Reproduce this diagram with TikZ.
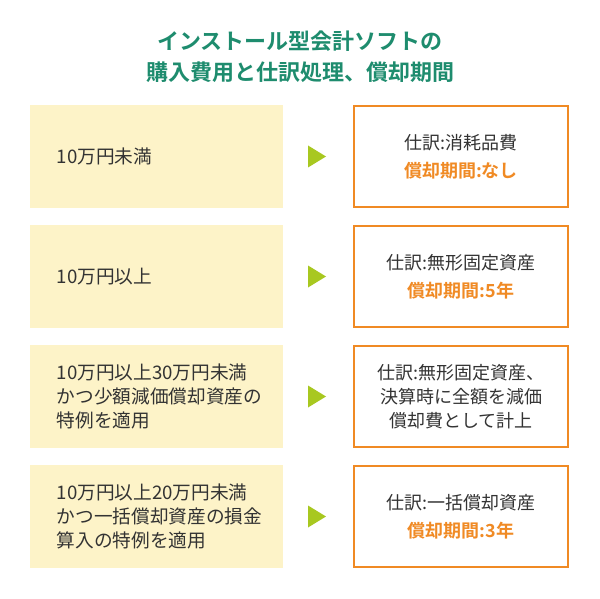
\documentclass[tikz,border=0pt]{standalone}
\usepackage{fontspec}
\setmainfont{Noto Sans CJK JP}[BoldFont={* Bold}]
\usetikzlibrary{calc}
\definecolor{ttl}{HTML}{1E8C6E}
\definecolor{cream}{HTML}{FDF3C8}
\definecolor{org}{HTML}{F08A24}
\definecolor{arr}{HTML}{A8C820}
\definecolor{txt}{HTML}{333333}
\begin{document}
\begin{tikzpicture}[x=0.75pt,y=-0.75pt,
  lbox/.style={fill=cream,draw=none,minimum width=253*0.75pt,minimum height=103*0.75pt,inner sep=0pt},
  rbox/.style={fill=white,draw=org,line width=1.5pt,minimum width=214*0.75pt,minimum height=101*0.75pt,inner sep=0pt,align=center,font=\fontsize{13.5}{18}\selectfont,text=txt},
  ltxt/.style={anchor=west,align=left,font=\fontsize{14}{18}\selectfont,text=txt}]
\fill[white] (0,0) rectangle (600,599);
\node[font=\bfseries\fontsize{16.5}{23}\selectfont,text=ttl,align=center] (title) at (300,57) {インストール型会計ソフトの\\購入費用と仕訳処理、償却期間};
\foreach \i/\y in {1/156.5,2/276.5,3/396.5,4/516.5}{
  \node[lbox] (l\i) at (156.5,\y) {};
  \coordinate (a\i) at (316,\y);
  \fill[arr] ($(a\i)+(-8,-11)$) -- ($(a\i)+(10,0)$) -- ($(a\i)+(-8,11)$) -- cycle;
}
\node[ltxt] (t1) at (52,156.5) {10万円未満};
\node[ltxt] (t2) at (52,276.5) {10万円以上};
\node[ltxt] (t3) at (52,396.5) {10万円以上30万円未満\\かつ少額減価償却資産の\\特例を適用};
\node[ltxt] (t4) at (52,516.5) {10万円以上20万円未満\\かつ一括償却資産の損金\\算入の特例を適用};
\node[rbox] (r1) at (461,156.5) {仕訳:消耗品費\\[3pt]{\bfseries\color{org}償却期間:なし}};
\node[rbox] (r2) at (461,276.5) {仕訳:無形固定資産\\[3pt]{\bfseries\color{org}償却期間:5年}};
\node[rbox] (r3) at (461,396.5) {仕訳:無形固定資産、\\決算時に全額を減価\\償却費として計上};
\node[rbox] (r4) at (461,516.5) {仕訳:一括償却資産\\[3pt]{\bfseries\color{org}償却期間:3年}};
\end{tikzpicture}
\end{document}
